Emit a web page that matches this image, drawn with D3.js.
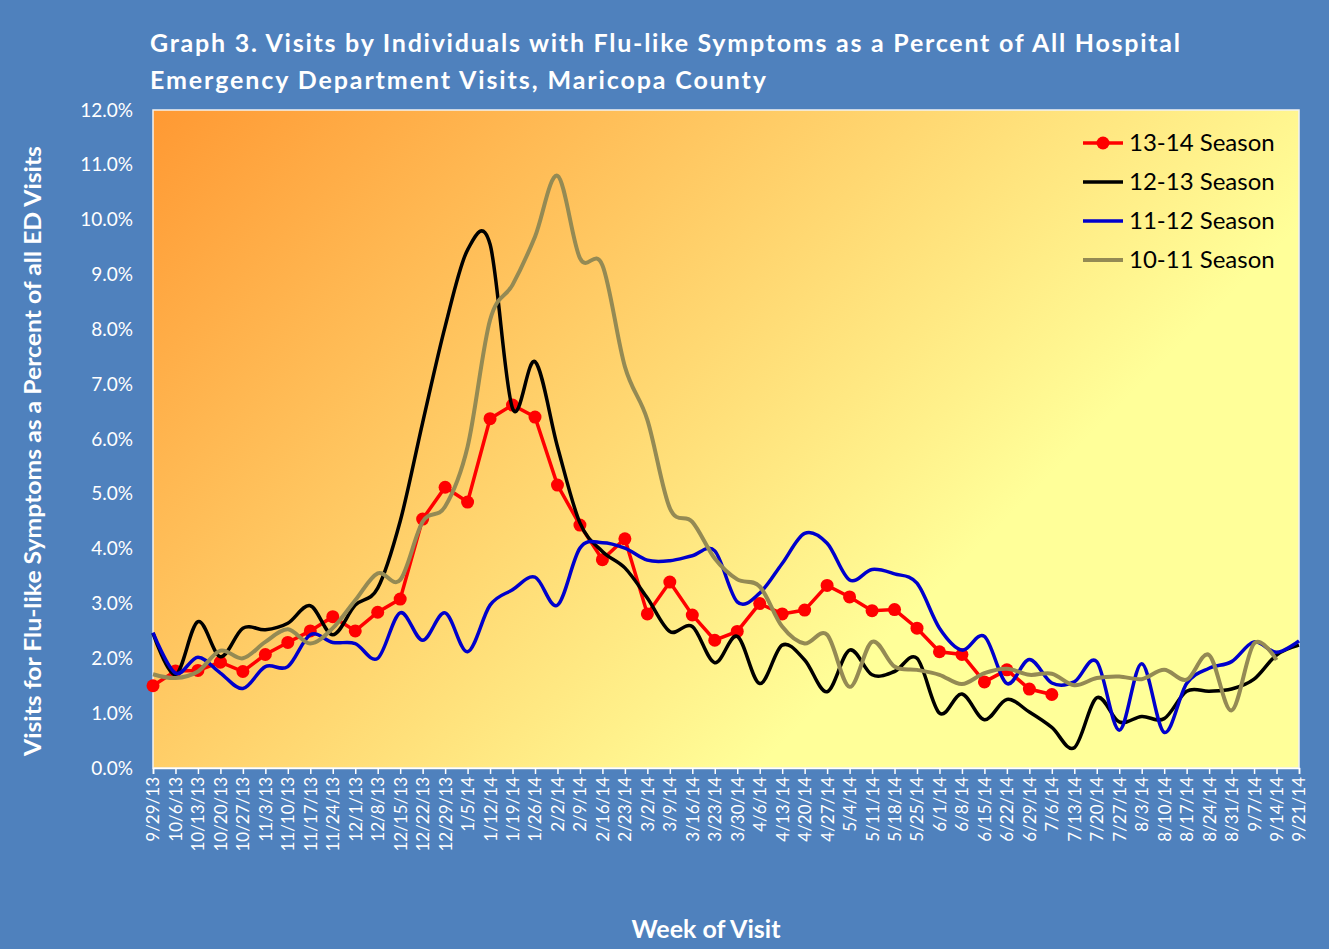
<!DOCTYPE html>
<html>
<head>
<meta charset="utf-8">
<script src="https://cdn.jsdelivr.net/npm/d3@7"></script>
<style>
  body { margin: 0; background: #4f81bd; }
  svg { display: block; }
  text { font-family: Lato, "Open Sans", sans-serif; }
</style>
</head>
<body>
<div id="chart"></div>
<script>
// Week labels (x axis)
const weeks = ["9/29/13","10/6/13","10/13/13","10/20/13","10/27/13","11/3/13","11/10/13","11/17/13","11/24/13",
  "12/1/13","12/8/13","12/15/13","12/22/13","12/29/13","1/5/14","1/12/14","1/19/14","1/26/14","2/2/14","2/9/14",
  "2/16/14","2/23/14","3/2/14","3/9/14","3/16/14","3/23/14","3/30/14","4/6/14","4/13/14","4/20/14","4/27/14",
  "5/4/14","5/11/14","5/18/14","5/25/14","6/1/14","6/8/14","6/15/14","6/22/14","6/29/14","7/6/14","7/13/14",
  "7/20/14","7/27/14","8/3/14","8/10/14","8/17/14","8/24/14","8/31/14","9/7/14","9/14/14","9/21/14"];

// Percent of ED visits, per season
const season1314 = [1.50,1.77,1.78,1.93,1.76,2.07,2.29,2.50,2.76,2.50,2.84,3.08,4.54,5.12,4.85,6.37,6.62,6.40,5.16,4.43,
  3.80,4.18,2.81,3.39,2.79,2.33,2.49,3.00,2.81,2.88,3.33,3.12,2.87,2.89,2.55,2.12,2.07,1.57,1.79,1.44,1.34];
const season1213 = [2.46,1.70,2.67,2.03,2.55,2.52,2.64,2.96,2.43,2.97,3.28,4.50,6.30,8.05,9.45,9.55,6.56,7.41,5.86,4.47,
  3.95,3.65,3.10,2.49,2.58,1.92,2.40,1.54,2.24,1.97,1.39,2.15,1.70,1.76,2.00,1.00,1.35,0.88,1.25,1.02,0.74,0.37,
  1.28,0.84,0.94,0.90,1.40,1.40,1.44,1.62,2.06,2.24];
const season1112 = [2.47,1.73,2.02,1.73,1.45,1.85,1.85,2.43,2.29,2.27,2.00,2.83,2.33,2.83,2.12,2.97,3.25,3.48,2.97,4.01,
  4.11,4.01,3.79,3.78,3.87,3.96,3.03,3.19,3.73,4.28,4.10,3.43,3.62,3.54,3.37,2.55,2.15,2.40,1.54,1.98,1.55,1.57,
  1.94,0.69,1.90,0.65,1.54,1.82,1.94,2.30,2.11,2.32];
const season1011 = [1.71,1.64,1.76,2.14,2.00,2.30,2.53,2.27,2.55,3.06,3.55,3.43,4.49,4.77,5.86,8.17,8.81,9.69,10.80,9.30,
  9.17,7.32,6.35,4.74,4.49,3.82,3.44,3.31,2.58,2.27,2.43,1.48,2.30,1.85,1.79,1.70,1.53,1.73,1.81,1.70,1.72,1.51,
  1.64,1.67,1.62,1.79,1.61,2.06,1.05,2.27,1.97];

const seriesNames = ["13-14 Season", "12-13 Season", "11-12 Season", "10-11 Season"];
const yTicks = [0,1,2,3,4,5,6,7,8,9,10,11,12];

// Dimensions
const w = 1329, h = 949;
const plotL = 153, plotR = 1299, plotT = 110, plotB = 768;

const svg = d3.select("#chart").append("svg").attr("width", w).attr("height", h);

svg.append("rect").attr("width", w).attr("height", h).attr("fill", "#4f81bd");

// Plot area gradient (orange top-left -> yellow bottom-right)
const defs = svg.append("defs");
const grad = defs.append("linearGradient").attr("id", "bg")
  .attr("gradientUnits", "userSpaceOnUse")
  .attr("x1", plotL).attr("y1", plotT)
  .attr("x2", plotL + 902).attr("y2", plotT + 902);
grad.append("stop").attr("offset", 0).attr("stop-color", "#ff9933");
grad.append("stop").attr("offset", 0.7).attr("stop-color", "#ffff99");
grad.append("stop").attr("offset", 1).attr("stop-color", "#ffff99");

const x = d3.scalePoint().domain(weeks).range([plotL, plotR]);
const y = d3.scaleLinear().domain([0, 12]).range([plotB, plotT]);

svg.append("rect")
  .attr("x", plotL).attr("y", plotT)
  .attr("width", plotR - plotL).attr("height", plotB - plotT)
  .attr("fill", "url(#bg)")
  .attr("stroke", "#f2f2f2").attr("stroke-width", 1.5);

// Y axis labels
const yAxis = d3.axisLeft(y).tickValues(yTicks).tickFormat(d => d.toFixed(1) + "%").tickSize(0).tickPadding(20);
const gy = svg.append("g").attr("transform", `translate(${plotL},0)`).call(yAxis);
gy.select(".domain").remove();
gy.selectAll("text").attr("fill", "#fff").style("font-size", "19px");

// X axis
const xAxis = d3.axisBottom(x).tickSize(6).tickPadding(4);
const gx = svg.append("g").attr("transform", `translate(0,${plotB})`).call(xAxis);
gx.select(".domain").attr("stroke", "#fff").attr("stroke-width", 1.5);
gx.selectAll(".tick line").attr("stroke", "#fff").attr("stroke-width", 1.5);
gx.selectAll("text")
  .attr("fill", "#fff")
  .style("font-size", "17px")
  .attr("transform", "rotate(-90)")
  .attr("x", -9).attr("y", 0).attr("dy", "0.35em")
  .style("text-anchor", "end");

// Lines (Excel style smoothing)
const line = d3.line()
  .x((d, i) => x(weeks[i]))
  .y(d => y(d))
  .curve(d3.curveCardinal.tension(0));

const redLine = d3.line().x((d, i) => x(weeks[i])).y(d => y(d));

svg.append("path").datum(season1314)
  .attr("d", redLine).attr("fill", "none").attr("stroke", "#ff0000").attr("stroke-width", 3.5);
svg.selectAll(".dot").data(season1314).enter().append("circle")
  .attr("cx", (d, i) => x(weeks[i])).attr("cy", d => y(d)).attr("r", 6.5).attr("fill", "#ff0000");

const smooth = [
  { data: season1213, color: "#000000", width: 3.5 },
  { data: season1112, color: "#0000cc", width: 3.5 },
  { data: season1011, color: "#948a54", width: 4 }
];
smooth.forEach(s => {
  svg.append("path").datum(s.data)
    .attr("d", line).attr("fill", "none")
    .attr("stroke", s.color).attr("stroke-width", s.width)
    .attr("stroke-linejoin", "round");
});

// Legend
const legColors = ["#ff0000", "#000000", "#0000cc", "#948a54"];
const leg = svg.append("g");
seriesNames.forEach((name, i) => {
  const ly = 143 + i * 39;
  leg.append("line").attr("x1", 1083).attr("x2", 1123).attr("y1", ly).attr("y2", ly)
    .attr("stroke", legColors[i]).attr("stroke-width", i === 3 ? 4 : 3.5);
  if (i === 0) leg.append("circle").attr("cx", 1103).attr("cy", ly).attr("r", 6.5).attr("fill", "#ff0000");
  leg.append("text").attr("x", 1129).attr("y", ly).attr("dy", "0.35em")
    .style("font-size", "24px").attr("fill", "#000").text(name);
});

// Titles
const title = svg.append("text")
  .style("font-size", "25px").style("font-weight", "bold").attr("fill", "#fff");
title.append("tspan").attr("x", 150).attr("y", 52)
  .attr("textLength", 1030).attr("lengthAdjust", "spacing")
  .text("Graph 3. Visits by Individuals  with Flu-like Symptoms as a Percent of All Hospital");
title.append("tspan").attr("x", 150).attr("y", 89)
  .attr("textLength", 616).attr("lengthAdjust", "spacing")
  .text("Emergency Department Visits, Maricopa County");

svg.append("text")
  .attr("transform", "rotate(-90)")
  .attr("x", -451).attr("y", 41)
  .attr("text-anchor", "middle")
  .attr("textLength", 610).attr("lengthAdjust", "spacingAndGlyphs")
  .style("font-size", "23px").style("font-weight", "bold").attr("fill", "#fff")
  .text("Visits for Flu-like Symptoms as a Percent of all ED Visits");

svg.append("text")
  .attr("x", 706).attr("y", 938)
  .attr("text-anchor", "middle")
  .style("font-size", "25px").style("font-weight", "bold").attr("fill", "#fff")
  .text("Week of Visit");
</script>
</body>
</html>
